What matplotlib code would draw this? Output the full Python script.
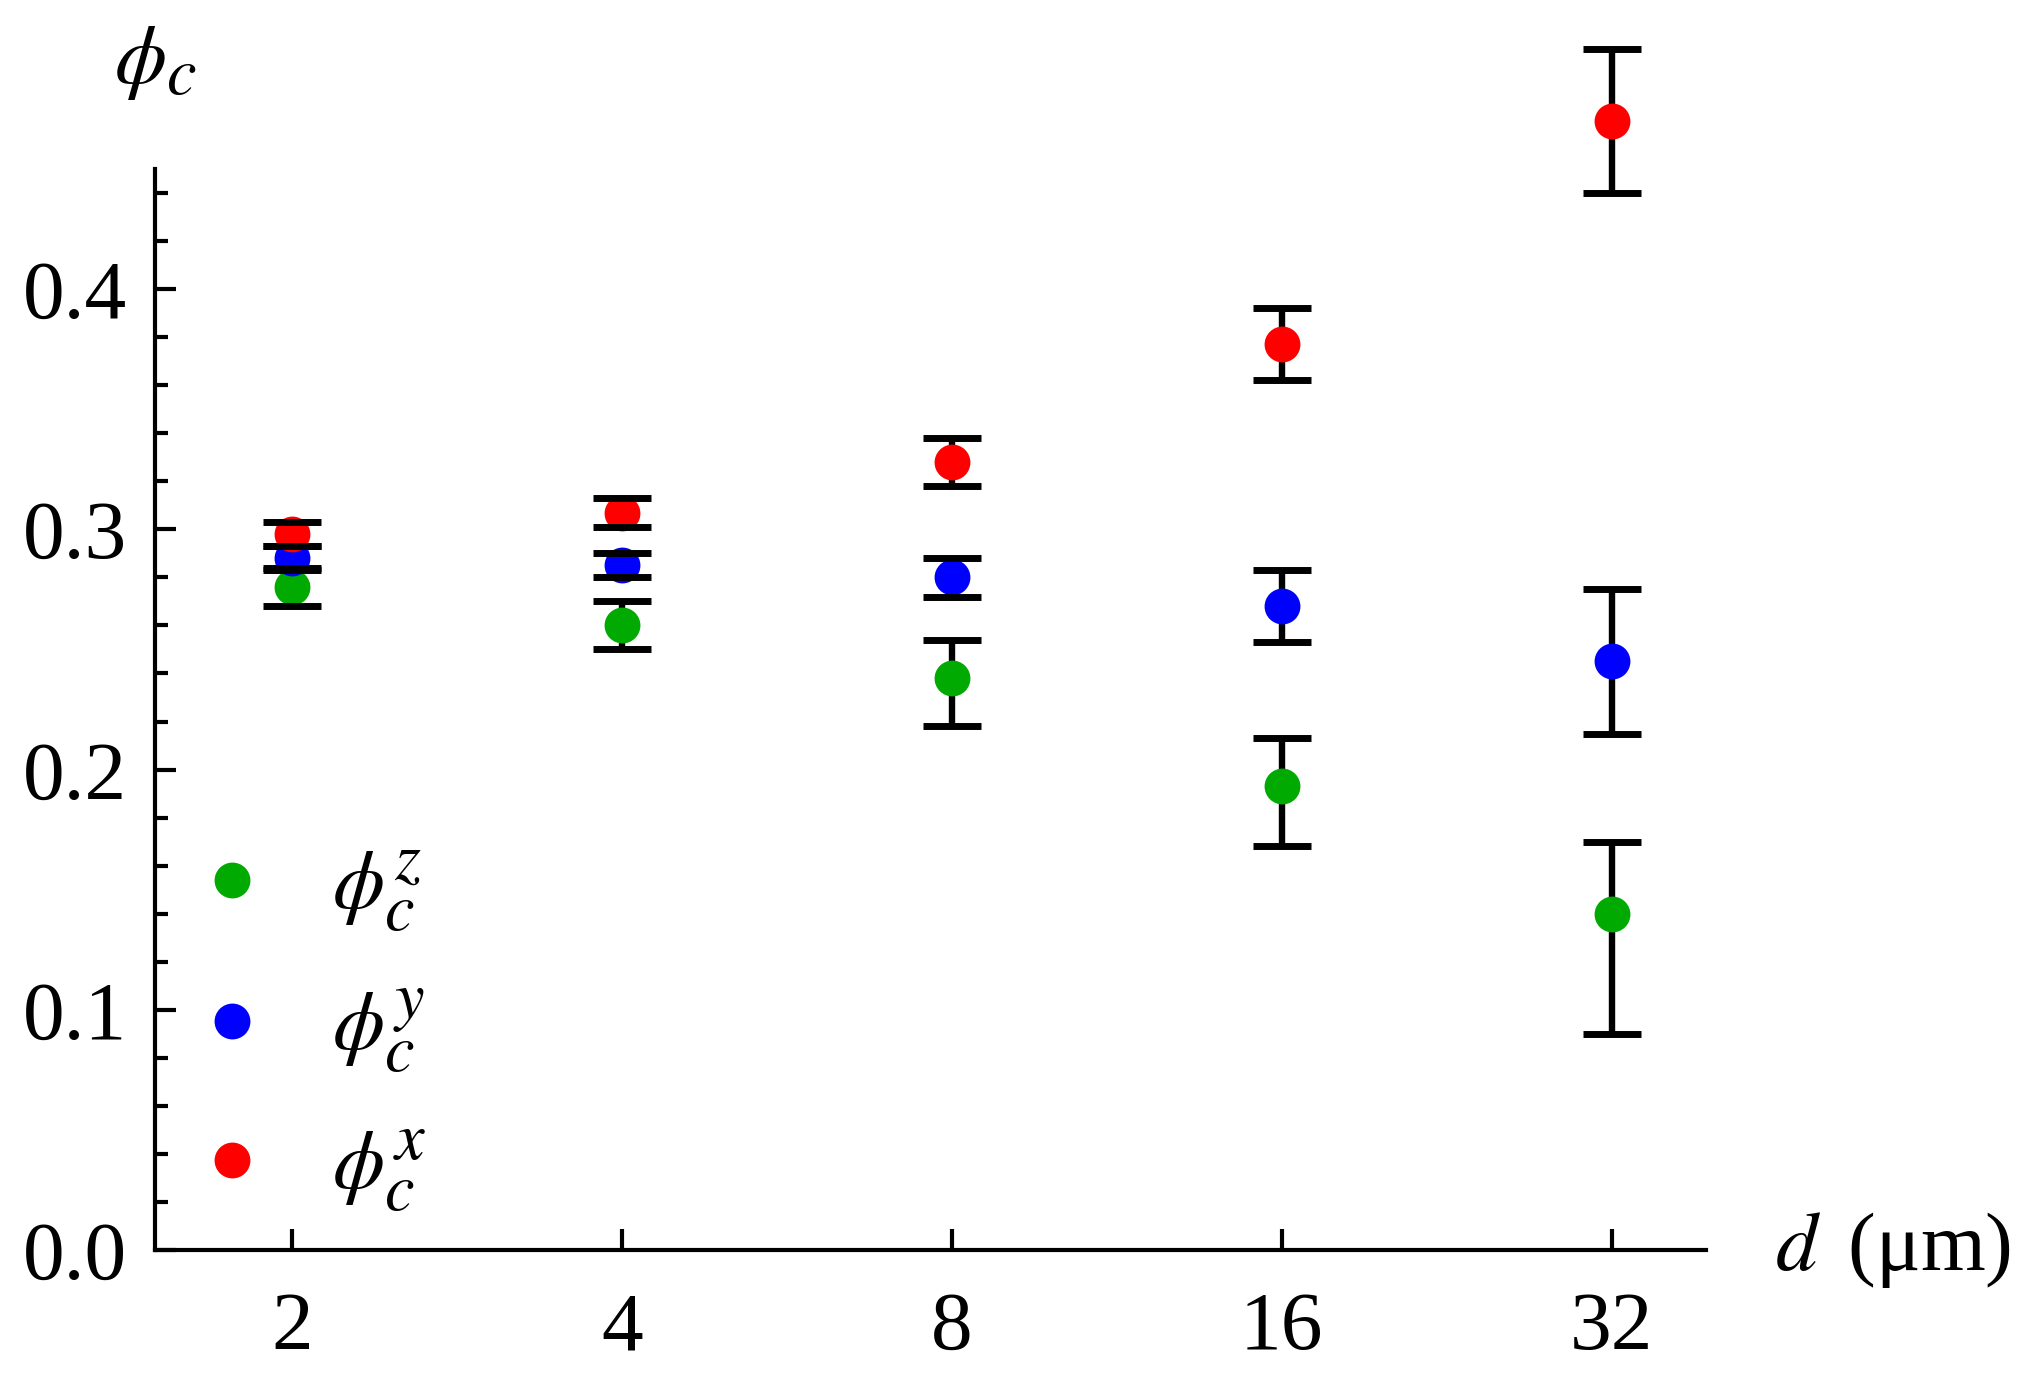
import matplotlib
matplotlib.use('Agg')
import matplotlib.pyplot as plt
import matplotlib._mathtext as mathtext_internal
from matplotlib.lines import Line2D
from matplotlib.ticker import MultipleLocator, NullLocator, FormatStrFormatter

# datos
d_um = [2, 4, 8, 16, 32]
d_labels = ['2', '4', '8', '16', '32']

phi_x = [0.298, 0.307, 0.328, 0.377, 0.470]
phi_x_err = [0.005, 0.006, 0.010, 0.015, 0.030]

phi_y = [0.288, 0.285, 0.280, 0.268, 0.245]
phi_y_err = [0.005, 0.005, 0.008, 0.015, 0.030]

phi_z = [0.276, 0.260, 0.238, 0.193, 0.140]
phi_z_lo = [0.008, 0.010, 0.020, 0.025, 0.050]
phi_z_hi = [0.008, 0.010, 0.016, 0.020, 0.030]

series = [
    (phi_z, [phi_z_lo, phi_z_hi], '#00aa00', r'$\phi_c^z$'),
    (phi_y, phi_y_err, '#0000ff', r'$\phi_c^y$'),
    (phi_x, phi_x_err, '#ff0000', r'$\phi_c^x$'),
]

plt.rcParams['font.family'] = 'serif'
plt.rcParams['font.serif'] = ['Liberation Serif', 'DejaVu Serif']
plt.rcParams['mathtext.fontset'] = 'stix'
# sub/superindices un poco mas grandes, como en el original
mathtext_internal.SHRINK_FACTOR = 0.8

FS = 30
MS = 11.9

fig = plt.figure(figsize=(10.22, 6.91), dpi=200)
ax = fig.add_axes([0.0758, 0.0955, 0.7588, 0.7822])

handles = []
labels = []
for vals, err, col, lab in series:
    eb = ax.errorbar(d_um, vals, yerr=err, fmt='o', color=col, mec=col, ms=MS,
                     ecolor='black', elinewidth=2.3, capsize=10.3, capthick=2.5,
                     clip_on=False, zorder=3)
    data_line, caplines, barcols = eb.lines
    for cl in caplines:
        cl.set_zorder(4)
        cl.set_clip_on(False)
    for bc in barcols:
        bc.set_zorder(2)
        bc.set_clip_on(False)
    data_line.set_clip_on(False)
    handles.append(Line2D([], [], marker='o', ls='none', color=col, ms=MS))
    labels.append(lab)

ax.set_xscale('log', base=2)
ax.set_xlim(1.5, 39)
ax.set_xticks(d_um)
ax.set_xticklabels(d_labels)
ax.xaxis.set_minor_locator(NullLocator())

ax.set_ylim(0, 0.45)
ax.yaxis.set_major_locator(MultipleLocator(0.1))
ax.yaxis.set_minor_locator(MultipleLocator(0.02))
ax.yaxis.set_major_formatter(FormatStrFormatter('%.1f'))

for s in ['top', 'right']:
    ax.spines[s].set_visible(False)
for s in ['left', 'bottom']:
    ax.spines[s].set_linewidth(1.5)

ax.tick_params(which='both', direction='in', width=1.5, labelsize=FS)
ax.tick_params(which='major', length=7.6)
ax.tick_params(which='minor', length=4.6)
ax.tick_params(axis='x', pad=15)
ax.tick_params(axis='y', pad=10)

ax.annotate(r'$\phi_c$', xy=(0, 1), xycoords='axes fraction', xytext=(0, 38),
            textcoords='offset points', ha='center', va='center', fontsize=FS)
ax.annotate(r'$d\,$ (μm)', xy=(1, 0), xycoords='axes fraction', xytext=(25, 0),
            textcoords='offset points', ha='left', va='center', fontsize=FS)

ax.legend(handles, labels, loc='center left', bbox_to_anchor=(0.0226, 0.202),
          frameon=False, fontsize=FS, borderpad=0, borderaxespad=0,
          handlelength=1.0, handletextpad=0.7, labelspacing=0.62)

fig.savefig('out.png', dpi=200)
